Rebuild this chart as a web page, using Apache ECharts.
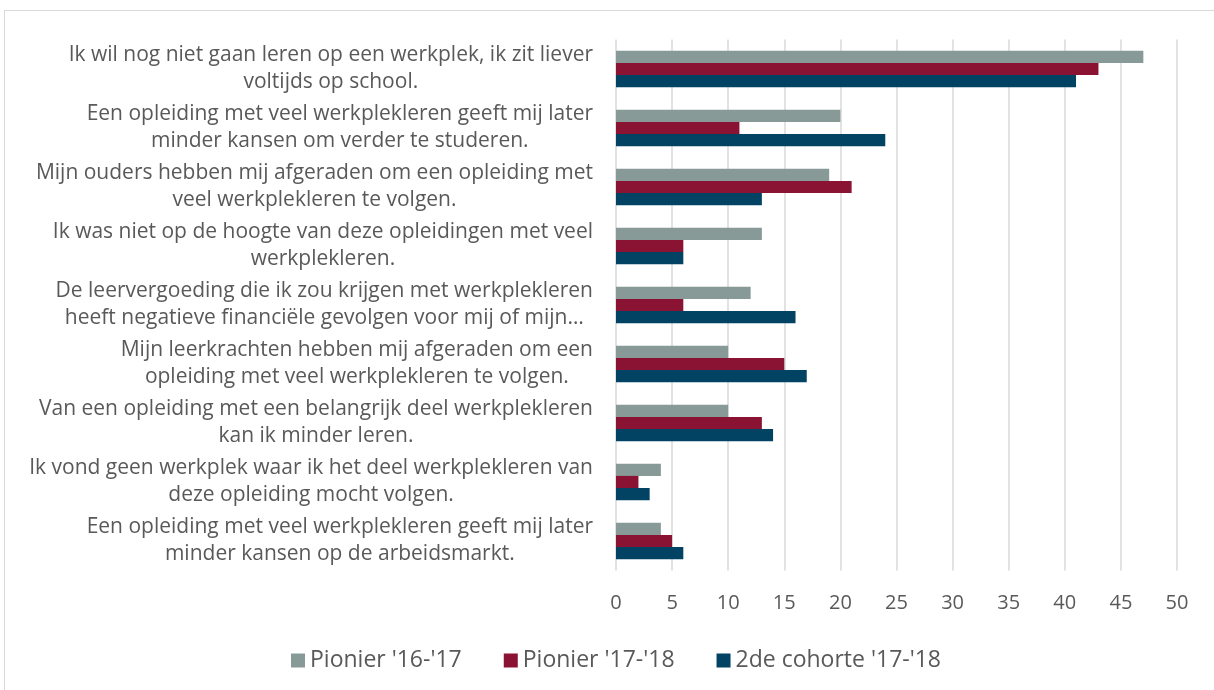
<!DOCTYPE html>
<html>
<head>
<meta charset="utf-8">
<script src="https://cdn.jsdelivr.net/npm/echarts@6/dist/echarts.min.js"></script>
<style>
  html, body { margin: 0; padding: 0; background: #fff; overflow: hidden; }
  #chart { position: absolute; left: 4px; top: 10px; width: 1220px; height: 690px;
           border-left: 1px solid #d9d9d9; border-top: 1px solid #d9d9d9; }
</style>
</head>
<body>
<div id="chart"></div>
<script>
// reasons (top to bottom)
var categories = [
  "Ik wil nog niet gaan leren op een werkplek, ik zit liever\nvoltijds op school.",
  "Een opleiding met veel werkplekleren geeft mij later\nminder kansen om verder te studeren.",
  "Mijn ouders hebben mij afgeraden om een opleiding met\nveel werkplekleren te volgen.",
  "Ik was niet op de hoogte van deze opleidingen met veel\nwerkplekleren.",
  "De leervergoeding die ik zou krijgen met werkplekleren\nheeft negatieve financiële gevolgen voor mij of mijn…",
  "Mijn leerkrachten hebben mij afgeraden om een\nopleiding met veel werkplekleren te volgen.",
  "Van een opleiding met een belangrijk deel werkplekleren\nkan ik minder leren.",
  "Ik vond geen werkplek waar ik het deel werkplekleren van\ndeze opleiding mocht volgen.",
  "Een opleiding met veel werkplekleren geeft mij later\nminder kansen op de arbeidsmarkt."
];

var seriesNames = ["Pionier '16-'17", "Pionier '17-'18", "2de cohorte '17-'18"];
var pionier1617 = [47, 20, 19, 13, 12, 10, 10, 4, 4];
var pionier1718 = [43, 11, 21, 6, 6, 15, 13, 2, 5];
var cohorte1718 = [41, 24, 13, 6, 16, 17, 14, 3, 6];
var colors = ['#889a97', '#8a1233', '#024364'];

var textColor = '#595959';
var fontFam = '"Open Sans", sans-serif';

var myChart = echarts.init(document.getElementById('chart'));

function makeSeries(name, data, color) {
  return {
    name: name,
    type: 'bar',
    data: data,
    barGap: '0%',
    barCategoryGap: '38%',
    itemStyle: { color: color },
    emphasis: { disabled: true }
  };
}

var option = {
  animation: false,
  textStyle: { fontFamily: fontFam },
  grid: { left: 611, top: 28.5, width: 561, height: 531, containLabel: false },
  legend: {
    top: 633,
    left: 281,
    icon: 'rect',
    itemWidth: 14,
    itemHeight: 14,
    itemGap: 42,
    textStyle: { fontSize: 23, color: textColor, fontFamily: fontFam },
    data: seriesNames
  },
  xAxis: {
    type: 'value',
    min: 0,
    max: 50,
    interval: 5,
    axisLine: { show: false },
    axisTick: { show: false },
    axisLabel: { fontSize: 20, color: textColor, margin: 23 },
    splitLine: { lineStyle: { color: '#d9d9d9', width: 1.5 } }
  },
  yAxis: {
    type: 'category',
    inverse: true,
    data: categories,
    axisLine: { show: false },
    axisTick: { show: false },
    axisLabel: {
      margin: 23,
      align: 'right',
      formatter: function (value) {
        return value.split('\n').map(function (l) { return '{c|' + l + '}'; }).join('\n');
      },
      rich: {
        c: { align: 'center', fontSize: 21, lineHeight: 27, color: textColor, fontFamily: fontFam }
      }
    }
  },
  series: [
    makeSeries(seriesNames[0], pionier1617, colors[0]),
    makeSeries(seriesNames[1], pionier1718, colors[1]),
    makeSeries(seriesNames[2], cohorte1718, colors[2])
  ]
};

myChart.setOption(option);
</script>
</body>
</html>
